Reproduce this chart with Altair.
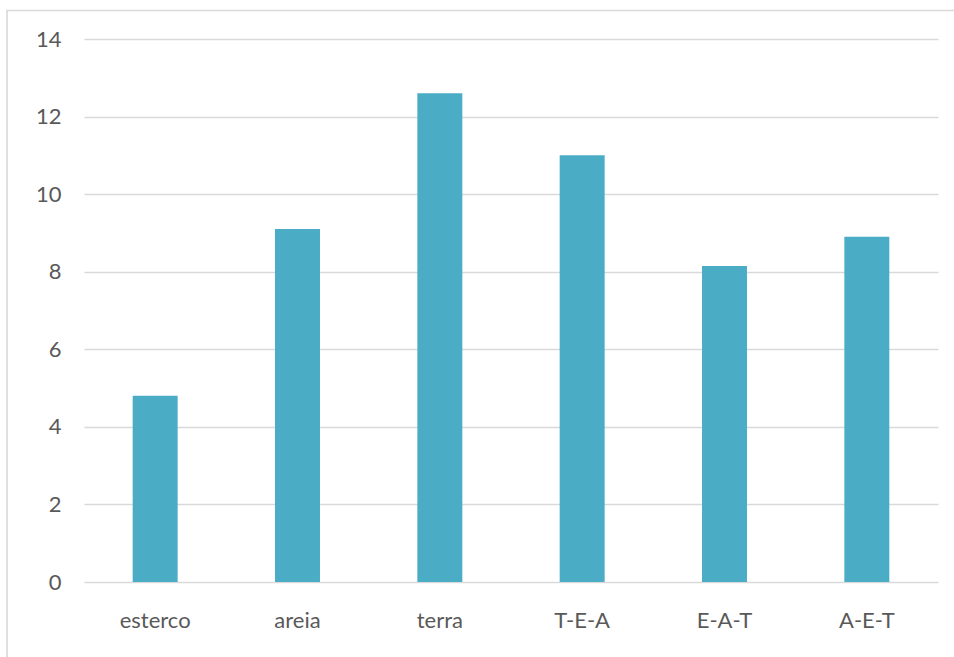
import altair as alt
import pandas as pd

categories = ["esterco", "areia", "terra", "T-E-A", "E-A-T", "A-E-T"]
values = [4.8, 9.1, 12.6, 11.0, 8.15, 8.9]
y_ticks = [0, 2, 4, 6, 8, 10, 12, 14]

df = pd.DataFrame({"cat": categories, "val": values})

FONT = "Lato"
TXT = "#595959"
GRID = "#D9D9D9"

bars = alt.Chart(df).mark_bar(color="#4BACC6").encode(
    x=alt.X(
        "cat:N",
        sort=categories,
        title=None,
        scale=alt.Scale(paddingInner=0.684, paddingOuter=0.342),
        axis=alt.Axis(
            labelAngle=0,
            labelFont=FONT,
            labelFontSize=22,
            labelColor=TXT,
            labelBaseline="alphabetic",
            labelPadding=45,
            ticks=False,
            tickSize=0,
            domain=False,
            grid=False,
        ),
    ),
    y=alt.Y(
        "val:Q",
        title=None,
        scale=alt.Scale(domain=[0, 14], nice=False),
        axis=alt.Axis(
            values=y_ticks,
            labelFont=FONT,
            labelFontSize=22,
            labelColor=TXT,
            labelPadding=23,
            ticks=False,
            tickSize=0,
            domain=False,
            grid=True,
            gridColor=GRID,
            gridWidth=1.3,
        ),
    ),
)

border = alt.Chart(pd.DataFrame({"a": [0]})).mark_rect(
    filled=False, stroke=GRID, strokeWidth=1.6
).encode(
    x=alt.value(-77),
    x2=alt.value(900),
    y=alt.value(-28.5),
    y2=alt.value(700),
)

chart = alt.layer(bars, border).properties(
    width=854,
    height=543,
    background="white",
    autosize=alt.AutoSizeParams(type="none"),
    padding={"left": 84, "top": 39, "right": 16, "bottom": 75},
).configure_view(strokeWidth=0, strokeOpacity=0)

chart.save("out.html", embed_options={"renderer": "svg", "actions": False})
